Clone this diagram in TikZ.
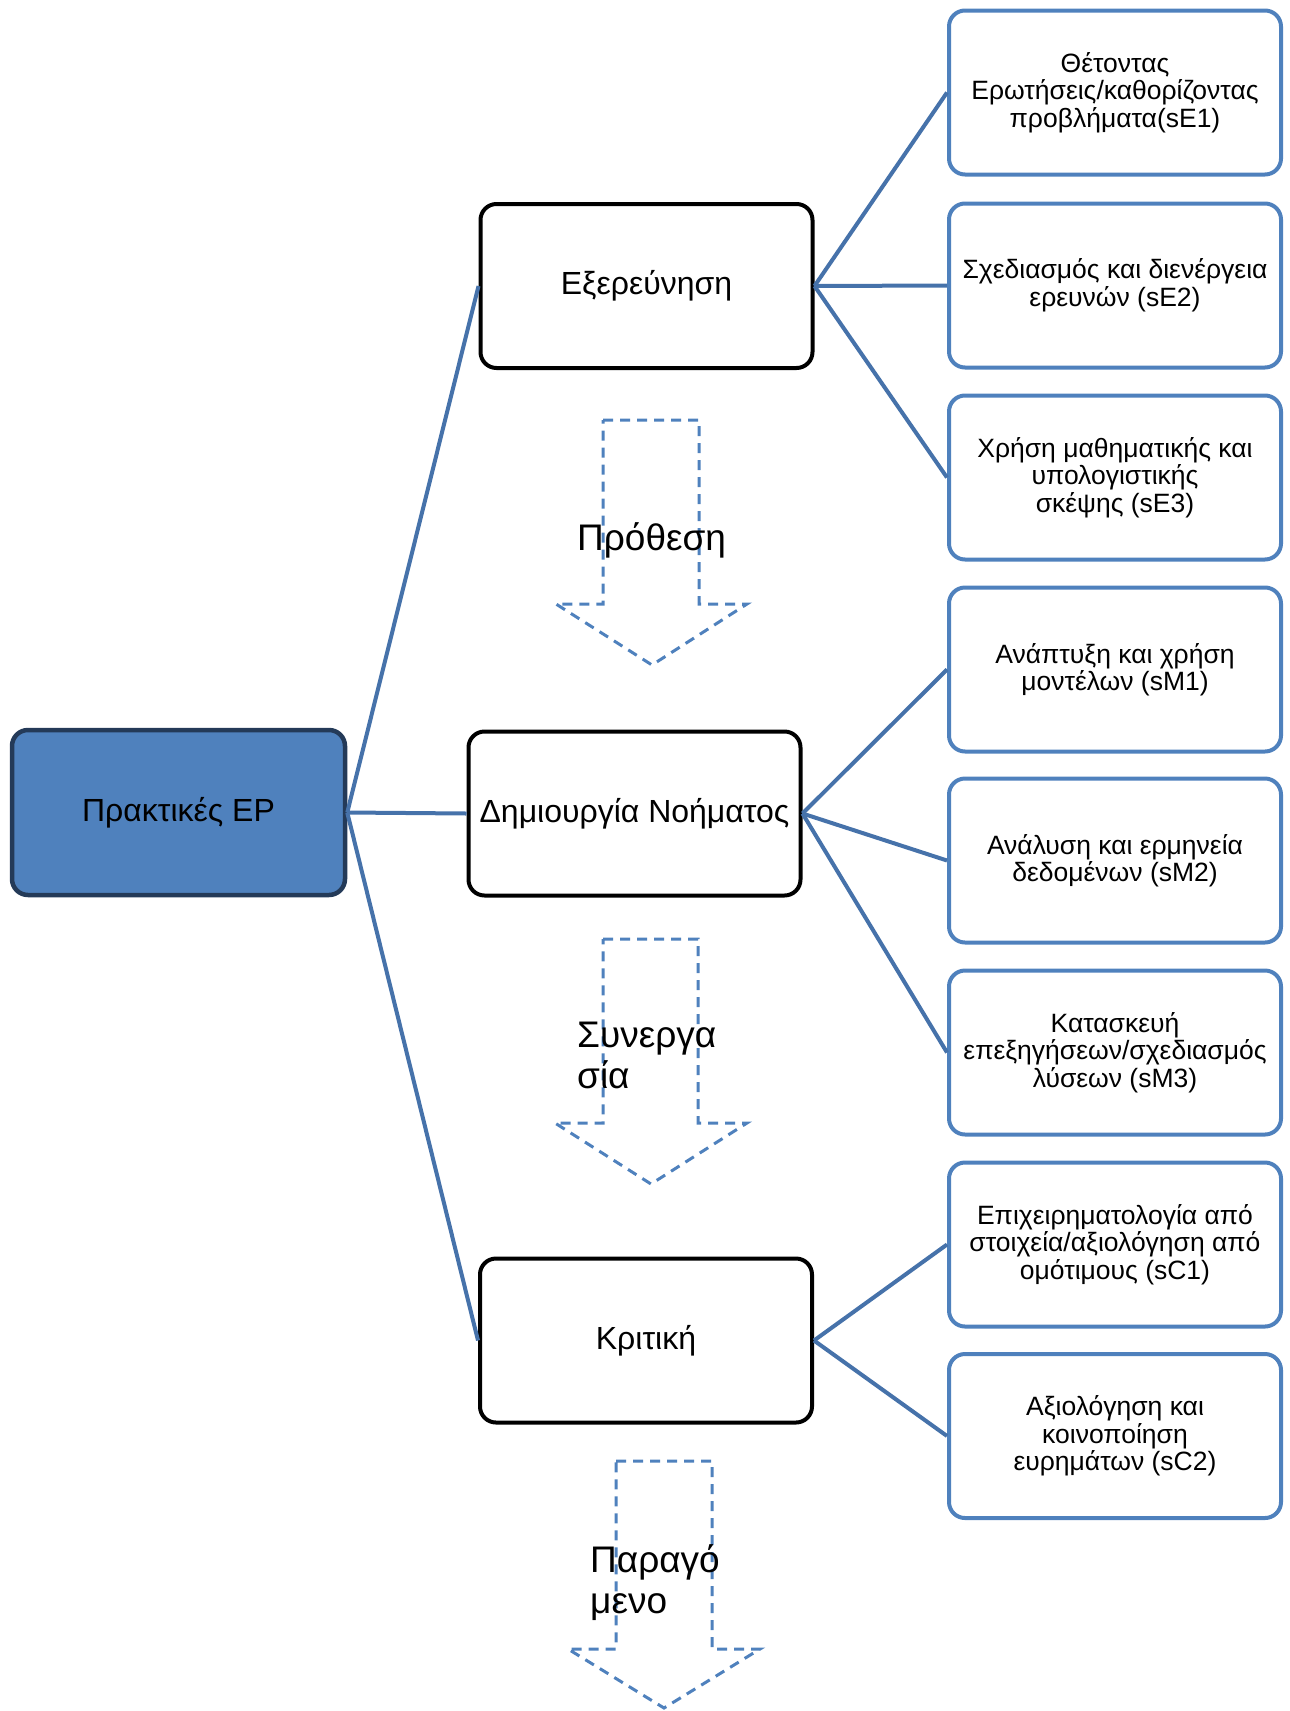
\documentclass[tikz,border=0pt]{standalone}
\usepackage{fontspec}
\setmainfont{Liberation Sans}
\definecolor{accent}{HTML}{4F81BD}
\definecolor{linkblue}{HTML}{4672AA}
\definecolor{navy}{HTML}{243A58}
\tikzset{
  rootbox/.style={draw=navy, fill=accent, line width=4.5pt, rounded corners=16pt,
    minimum width=333pt, minimum height=165pt, inner sep=0pt,
    font=\fontsize{32}{38}\selectfont},
  stagebox/.style={draw=black, fill=white, line width=4pt, rounded corners=16pt,
    minimum width=332pt, minimum height=164pt, inner sep=0pt,
    font=\fontsize{32}{38}\selectfont},
  leafbox/.style={draw=accent, fill=white, line width=4pt, rounded corners=16pt,
    minimum width=332pt, minimum height=164pt, inner sep=0pt, align=center,
    font=\fontsize{26.5}{27.5}\selectfont},
  link/.style={draw=linkblue, line width=4pt},
  flowarrow/.style={draw=accent, line width=3pt, dash pattern=on 10pt off 7pt, line join=miter},
  flowlabel/.style={anchor=base west, inner sep=0pt, align=left,
    font=\fontsize{37}{41}\selectfont}
}
\begin{document}
\begin{tikzpicture}[x=1pt,y=-1pt]
\useasboundingbox (0,0) rectangle (1290,1711);

% root and the three stages
\node[rootbox]  (root) at (178.5,812.5) {Πρακτικές ΕΡ};
\node[stagebox] (expl) at (646.5,286)   {Εξερεύνηση};
\node[stagebox] (mean) at (634.5,813.5) {Δημιουργία Νοήματος};
\node[stagebox] (crit) at (646,1340.5)  {Κριτική};

% sub-practices
\node[leafbox] (sE1) at (1115,92.5)  {Θέτοντας\\Ερωτήσεις/καθορίζοντας\\προβλήματα(sE1)};
\node[leafbox] (sE2) at (1115,285.5) {Σχεδιασμός και διενέργεια\\ερευνών (sE2)};
\node[leafbox] (sE3) at (1115,477.5) {Χρήση μαθηματικής και\\υπολογιστικής\\σκέψης (sE3)};
\node[leafbox] (sM1) at (1115,669.5) {Ανάπτυξη και χρήση\\μοντέλων (sM1)};
\node[leafbox] (sM2) at (1115,860.5) {Ανάλυση και ερμηνεία\\δεδομένων (sM2)};
\node[leafbox] (sM3) at (1115,1052.5) {Κατασκευή\\επεξηγήσεων/σχεδιασμός\\λύσεων (sM3)};
\node[leafbox] (sC1) at (1115,1244.5) {Επιχειρηματολογία από\\στοιχεία/αξιολόγηση από\\ομότιμους (sC1)};
\node[leafbox] (sC2) at (1115,1436)  {Αξιολόγηση και\\κοινοποίηση\\ευρημάτων (sC2)};

% connectors
\draw[link] (root.east) -- (expl.west);
\draw[link] (root.east) -- (mean.west);
\draw[link] (root.east) -- (crit.west);
\draw[link] (expl.east) -- (sE1.west);
\draw[link] (expl.east) -- (sE2.west);
\draw[link] (expl.east) -- (sE3.west);
\draw[link] (mean.east) -- (sM1.west);
\draw[link] (mean.east) -- (sM2.west);
\draw[link] (mean.east) -- (sM3.west);
\draw[link] (crit.east) -- (sC1.west);
\draw[link] (crit.east) -- (sC2.west);

% dashed block arrows between the stages
\draw[flowarrow] (603,420) -- (699,420) -- (699,604) -- (747,604) -- (652,665)
  -- (556,604) -- (603,604) -- cycle;
\draw[flowarrow] (603,939) -- (698,939) -- (698,1123) -- (747,1123) -- (651,1184)
  -- (555,1123) -- (603,1123) -- cycle;
\draw[flowarrow] (616,1461) -- (712,1461) -- (712,1649) -- (760,1649) -- (664,1708)
  -- (568,1649) -- (616,1649) -- cycle;

% labels (anchored on the baseline of their last line)
\node[flowlabel] (intent) at (577,550)  {Πρόθεση};
\node[flowlabel] (collab) at (577,1088) {Συνεργα\\σία};
\node[flowlabel] (product) at (590,1613) {Παραγό\\μενο};
\end{tikzpicture}
\end{document}
